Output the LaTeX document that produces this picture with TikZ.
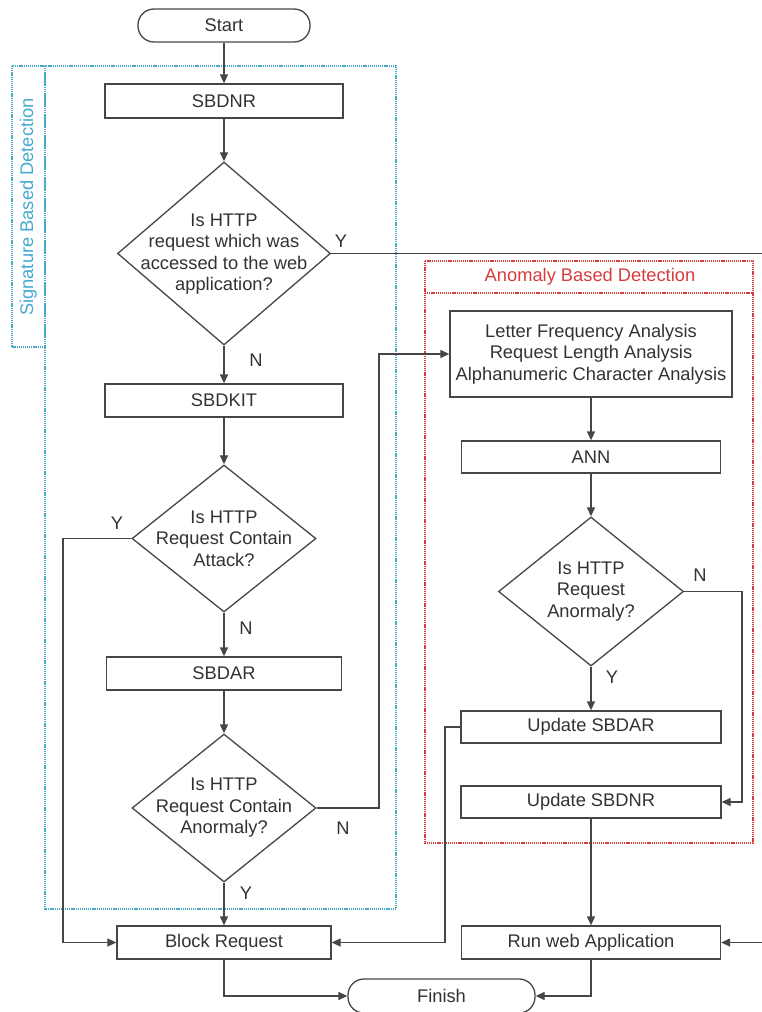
\documentclass[tikz,border=0pt]{standalone}
\usepackage{fontspec}
\setmainfont{Liberation Sans}
\usetikzlibrary{arrows.meta,shapes.geometric}
\definecolor{ln}{RGB}{70,70,70}
\definecolor{tx}{RGB}{50,50,50}
\definecolor{cy}{RGB}{70,170,205}
\definecolor{rd}{RGB}{215,60,60}
\begin{document}
\begin{tikzpicture}[x=1pt,y=1pt,
  every node/.style={font=\fontsize{18.3}{21.5}\selectfont, text=tx},
  box/.style={draw=ln, line width=1.3pt, rectangle, inner sep=0, align=center},
  term/.style={box, rounded corners=16pt},
  dec/.style={draw=ln, line width=1.3pt, diamond, inner sep=0},
  dtxt/.style={align=center, inner sep=0},
  lab/.style={inner sep=0},
  conn/.style={draw=ln, line width=1.3pt, -{Triangle[length=9pt,width=8pt]}},
  frame/.style={dash pattern=on 1.2pt off 0.9pt, line width=1.3pt}
]
\useasboundingbox (0,0) rectangle (761,-1012);

% group frames
\draw[cy, frame] (12,-66) rectangle (45,-347);
\draw[cy, frame] (45,-66) rectangle (396,-909);
\node[lab, rotate=90, text=cy] (sbdlab) at (28.5,-207) {Signature Based Detection};
\draw[rd, frame] (425,-261) rectangle (753,-843);
\draw[rd, frame, line width=1.9pt] (425,-293) -- (753,-293);
\node[lab, text=rd] (abdlab) at (590,-277) {Anomaly Based Detection};

% nodes
\node[term, minimum width=172, minimum height=33] (start) at (224,-25.5) {Start};
\node[box, minimum width=238, minimum height=34] (sbdnr) at (224,-101) {SBDNR};
\node[dec, minimum width=213, minimum height=183] (d1) at (224,-253.5) {};
\node[dtxt] (d1t) at (224,-254) {Is HTTP\\request which was\\accessed to the web\\application?};
\node[box, minimum width=238, minimum height=33] (sbdkit) at (224,-400.5) {SBDKIT};
\node[dec, minimum width=184, minimum height=147] (d2) at (224,-538.5) {};
\node[dtxt] (d2t) at (224,-538.5) {Is HTTP\\Request Contain\\Attack?};
\node[box, minimum width=235, minimum height=33] (sbdar) at (224,-673.5) {SBDAR};
\node[dec, minimum width=184, minimum height=148] (d3) at (224,-808) {};
\node[dtxt] (d3t) at (224,-808) {Is HTTP\\Request Contain\\Anormaly?};
\node[box, minimum width=214, minimum height=33] (block) at (224,-942.5) {Block Request};
\node[term, minimum width=187, minimum height=34] (finish) at (441.5,-996) {Finish};

\node[box, minimum width=282, minimum height=86] (lfa) at (591,-354) {Letter Frequency Analysis\\Request Length Analysis\\Alphanumeric Character Analysis};
\node[box, minimum width=259, minimum height=32] (ann) at (591,-457) {ANN};
\node[dec, minimum width=185, minimum height=149] (d4) at (591,-591.5) {};
\node[dtxt] (d4t) at (591,-591.5) {Is HTTP\\Request\\Anormaly?};
\node[box, minimum width=260, minimum height=32] (upar) at (591,-727) {Update SBDAR};
\node[box, minimum width=260, minimum height=32] (upnr) at (591,-802) {Update SBDNR};
\node[box, minimum width=259, minimum height=33] (run) at (591,-942.5) {Run web Application};

% connectors
\draw[conn] (start) -- (sbdnr);
\draw[conn] (sbdnr) -- (d1);
\draw[conn] (d1.south) -- (sbdkit.north);
\draw[conn] (d1.east) -- (765,-253.5) -- (765,-942.5) -- (run.east);
\draw[conn] (sbdkit) -- (d2);
\draw[conn] (d2.west) -- (63,-538.5) |- (block.west);
\draw[conn] (d2.south) -- (sbdar.north);
\draw[conn] (sbdar) -- (d3);
\draw[conn] (d3.east) -- (379,-808) |- (lfa.west);
\draw[conn] (d3.south) -- (block.north);
\draw[conn] (lfa) -- (ann);
\draw[conn] (ann) -- (d4);
\draw[conn] (d4.south) -- (upar.north);
\draw[conn] (d4.east) -- (742,-591.5) |- (upnr.east);
\draw[conn] (upar.west) -- (445,-727) |- (block.east);
\draw[conn] (upnr.south) -- (run.north);
\draw[conn] (block.south) |- (finish.west);
\draw[conn] (run.south) |- (finish.east);

% branch labels
\node[lab] (y1) at (341,-241) {Y};
\node[lab] (n1) at (256,-360) {N};
\node[lab] (y2) at (117,-523) {Y};
\node[lab] (n2) at (246,-628) {N};
\node[lab] (n3) at (343,-828) {N};
\node[lab] (y3) at (246,-893) {Y};
\node[lab] (n4) at (700,-575) {N};
\node[lab] (y4) at (612,-677) {Y};
\end{tikzpicture}
\end{document}
